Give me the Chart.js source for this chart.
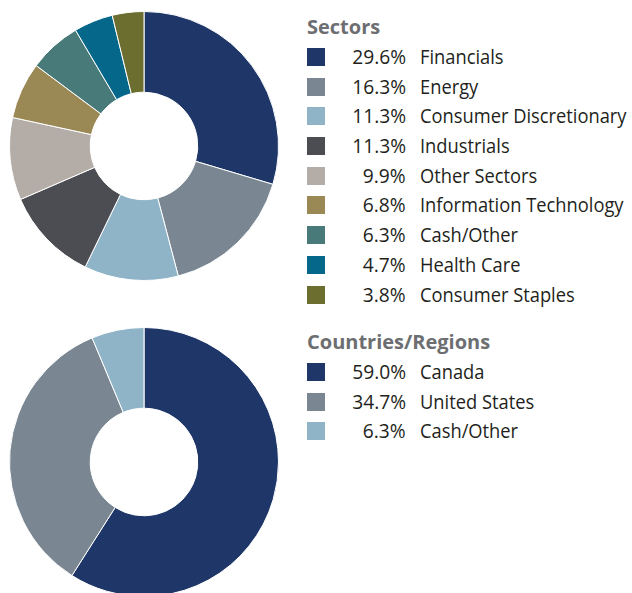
<!DOCTYPE html>
<html>
<head>
<meta charset="utf-8">
<script src="https://cdn.jsdelivr.net/npm/chart.js@4/dist/chart.umd.min.js"></script>
<style>
    html, body { margin: 0; padding: 0; background: #fff; width: 632px; height: 593px; overflow: hidden; position: relative; }
    canvas { position: absolute; }
    #sectorChart { left: 9px; top: 11px; }
    #countryChart { left: 9px; top: 327px; }
    .legend { position: absolute; left: 307px; font-family: "Open Sans", sans-serif; color: #231f20; }
    .legend h3 { margin: 0; font-size: 20px; font-weight: bold; color: #6d6e71; height: 30px; line-height: 30px; }
    .legend .row { position: relative; height: 29.7px; line-height: 29.7px; font-size: 20px; }
    .legend .box { position: absolute; left: 0; top: 6px; width: 18px; height: 18px; }
    .legend .pct { position: absolute; right: calc(100% - 99px); text-align: right; transform: scaleX(0.96); transform-origin: right center; }
    .legend .name { position: absolute; left: 113px; white-space: nowrap; transform: scaleX(0.915); transform-origin: left center; }
</style>
</head>
<body>
<canvas id="sectorChart" width="270" height="270"></canvas>
<canvas id="countryChart" width="270" height="270"></canvas>
<div class="legend" id="sectorLegend" style="top: 12px; width: 320px;"></div>
<div class="legend" id="countryLegend" style="top: 327px; width: 320px;"></div>
<script>
    const sectorLabels = ['Financials', 'Energy', 'Consumer Discretionary', 'Industrials', 'Other Sectors', 'Information Technology', 'Cash/Other', 'Health Care', 'Consumer Staples'];
    const sectorValues = [29.6, 16.3, 11.3, 11.3, 9.9, 6.8, 6.3, 4.7, 3.8];
    const sectorColors = ['#1e3668', '#7a8793', '#8fb4c8', '#4c4d53', '#b4ada7', '#9a8855', '#477a79', '#05678a', '#6b6e2f'];

    const countryLabels = ['Canada', 'United States', 'Cash/Other'];
    const countryValues = [59.0, 34.7, 6.3];
    const countryColors = ['#1e3668', '#7a8793', '#8fb4c8'];

    function drawDoughnut(id, labels, values, colors) {
        new Chart(document.getElementById(id), {
            type: 'doughnut',
            data: {
                labels,
                datasets: [{
                    data: values,
                    backgroundColor: colors,
                    borderColor: '#ffffff',
                    borderWidth: 1
                }]
            },
            options: {
                responsive: false,
                animation: false,
                cutout: '40%',
                layout: { padding: 0 },
                plugins: {
                    legend: { display: false },
                    tooltip: { enabled: false }
                }
            }
        });
    }

    function buildLegend(id, title, labels, values, colors) {
        const el = document.getElementById(id);
        el.innerHTML = `<h3>${title}</h3>`;
        labels.forEach((label, i) => {
            const row = document.createElement('div');
            row.className = 'row';
            row.innerHTML = `
                <span class="box" style="background:${colors[i]}"></span>
                <span class="pct">${values[i].toFixed(1)}%</span>
                <span class="name">${label}</span>
            `;
            el.appendChild(row);
        });
    }

    drawDoughnut('sectorChart', sectorLabels, sectorValues, sectorColors);
    drawDoughnut('countryChart', countryLabels, countryValues, countryColors);
    buildLegend('sectorLegend', 'Sectors', sectorLabels, sectorValues, sectorColors);
    buildLegend('countryLegend', 'Countries/Regions', countryLabels, countryValues, countryColors);
</script>
</body>
</html>
